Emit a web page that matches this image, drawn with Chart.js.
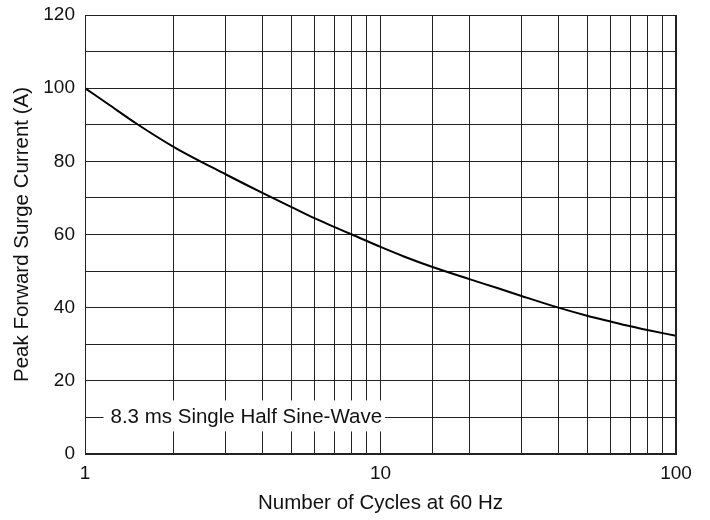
<!DOCTYPE html>
<html>
<head>
<meta charset="utf-8">
<script src="https://cdn.jsdelivr.net/npm/chart.js@4/dist/chart.umd.min.js"></script>
<style>
html,body{margin:0;padding:0;background:#fff;}
#wrap{width:710px;height:520px;position:relative;}
</style>
</head>
<body>
<div id="wrap"><canvas id="c" width="710" height="520"></canvas></div>
<script>
const cycles = [1, 1.2, 1.5, 2, 3, 4, 5, 6, 7, 8, 10, 12, 15, 20, 25, 30, 40, 50, 60, 70, 80, 100];
const surgeCurrent = [100, 95.6, 90.2, 83.9, 76.4, 71.3, 67.5, 64.4, 62.0, 60, 56.6, 54.0, 51.1, 47.8, 45.3, 43.2, 40.0, 37.8, 36.2, 34.9, 33.9, 32.3];
const xTickLabels = [1, 10, 100];
const yTickLabels = [0, 20, 40, 60, 80, 100, 120];
const annotationText = '8.3 ms Single Half Sine-Wave';
const xTitle = 'Number of Cycles at 60 Hz';
const yTitle = 'Peak Forward Surge Current (A)';

const FONT = '"Liberation Sans", Arial, sans-serif';
const TXT = '#111';
const GRID = '#222';

const annotationPlugin = {
  id: 'sineLabel',
  afterDatasetsDraw(chart) {
    const ctx = chart.ctx;
    const xs = chart.scales.x, ys = chart.scales.y;
    const cy = ys.getPixelForValue(10);
    const x0 = xs.getPixelForValue(1.22);
    ctx.save();
    ctx.font = '20.5px ' + FONT;
    const w = ctx.measureText(annotationText).width;
    ctx.fillStyle = '#fff';
    ctx.fillRect(x0 - 7, cy - 17, w + 10, 31);
    ctx.fillStyle = TXT;
    ctx.textBaseline = 'middle';
    ctx.textAlign = 'left';
    ctx.fillText(annotationText, x0, cy);
    ctx.restore();
  }
};

new Chart(document.getElementById('c'), {
  type: 'line',
  data: {
    datasets: [{
      data: cycles.map((c, i) => ({x: c, y: surgeCurrent[i]})),
      borderColor: '#000',
      borderWidth: 2,
      pointRadius: 0,
      fill: false,
      cubicInterpolationMode: 'monotone'
    }]
  },
  options: {
    responsive: false,
    animation: false,
    layout: {padding: {left: 0, right: 34, top: 15, bottom: 0}},
    plugins: {legend: {display: false}, tooltip: {enabled: false}},
    scales: {
      x: {
        type: 'logarithmic',
        min: 1, max: 100,
        afterFit(s) { s.height = 66; s.paddingLeft = 0; s.paddingRight = 0; },
        border: {display: true, color: GRID, width: 1},
        grid: {color: GRID, lineWidth: 1, drawTicks: false},
        ticks: {
          autoSkip: false, maxRotation: 0, padding: 8,
          color: TXT, font: {family: FONT, size: 19},
          callback: (v) => xTickLabels.includes(v) ? String(v) : ''
        },
        title: {display: true, text: xTitle, color: TXT, font: {family: FONT, size: 20.5}, padding: {top: 4, bottom: 4}}
      },
      y: {
        min: 0, max: 120,
        afterFit(s) { s.width = 85; s.paddingTop = 0; s.paddingBottom = 0; },
        border: {display: true, color: GRID, width: 1},
        grid: {color: GRID, lineWidth: 1, drawTicks: false},
        ticks: {
          stepSize: 10, padding: 10,
          color: TXT, font: {family: FONT, size: 19},
          callback: (v) => yTickLabels.includes(v) ? String(v) : ''
        },
        title: {display: true, text: yTitle, color: TXT, font: {family: FONT, size: 20.5}, padding: {top: 10, bottom: 10}}
      }
    }
  },
  plugins: [annotationPlugin, {
    id: 'frame',
    afterDraw(chart) {
      const a = chart.chartArea, ctx = chart.ctx;
      ctx.save();
      ctx.strokeStyle = GRID; ctx.lineWidth = 1;
      ctx.strokeRect(Math.round(a.left) + 0.5, Math.round(a.top) + 0.5, Math.round(a.right - a.left) - 1, Math.round(a.bottom - a.top) - 1);
      ctx.restore();
    }
  }]
});
</script>
</body>
</html>
